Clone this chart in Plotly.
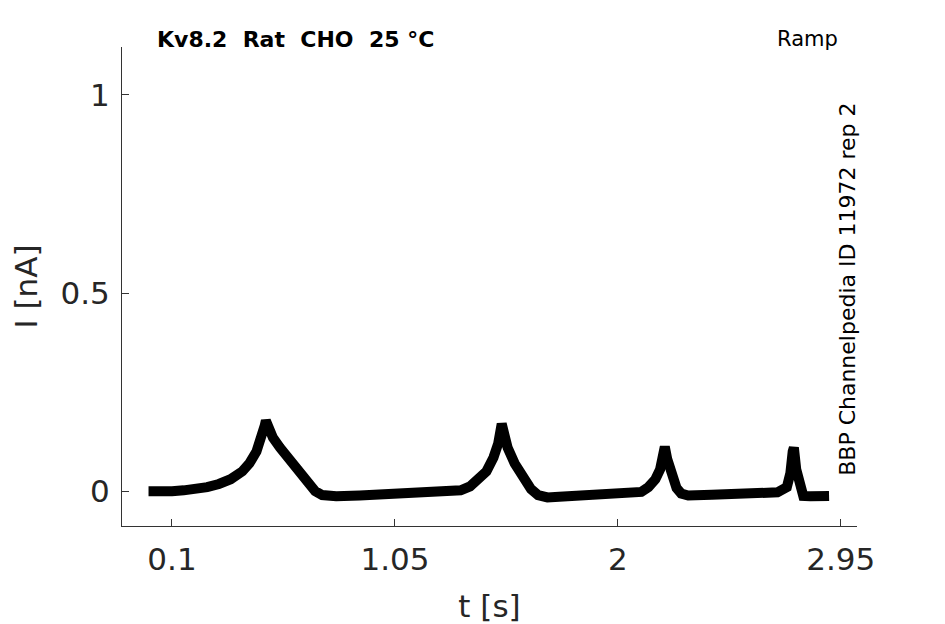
import plotly.graph_objects as go

# time [s] and current [nA]
t_s = [0.00, 0.05, 0.10, 0.15, 0.20, 0.25, 0.30, 0.35, 0.40, 0.43, 0.46, 0.48, 0.495, 0.50,
       0.51, 0.53, 0.56, 0.60, 0.64, 0.68, 0.71, 0.74, 0.80, 0.90, 1.00, 1.10, 1.20, 1.28,
       1.33, 1.37, 1.41, 1.44, 1.47, 1.49, 1.505, 1.515, 1.53, 1.56, 1.60, 1.63, 1.66, 1.70,
       1.75, 1.85, 1.95, 2.05, 2.10, 2.13, 2.16, 2.18, 2.195, 2.20, 2.21, 2.23, 2.25, 2.27,
       2.30, 2.40, 2.50, 2.60, 2.68, 2.72, 2.735, 2.745, 2.75, 2.76, 2.775, 2.79, 2.82, 2.86, 2.90]
i_nA = [0.000, -0.002, 0.000, 0.002, 0.005, 0.010, 0.018, 0.030, 0.050, 0.070, 0.100, 0.128, 0.165, 0.178,
        0.158, 0.135, 0.110, 0.080, 0.048, 0.018, 0.000, -0.010, -0.013, -0.011, -0.009, -0.007, -0.005, -0.003,
        0.002, 0.012, 0.030, 0.050, 0.085, 0.120, 0.170, 0.142, 0.110, 0.070, 0.028, 0.005, -0.010, -0.016,
        -0.014, -0.011, -0.009, -0.006, -0.002, 0.010, 0.030, 0.055, 0.092, 0.112, 0.082, 0.035, 0.008, -0.006,
        -0.011, -0.009, -0.007, -0.005, -0.003, 0.010, 0.045, 0.100, 0.110, 0.055, 0.005, -0.012, -0.013, -0.012, -0.012]

x_tickvals = [0.1, 1.05, 2, 2.95]
x_ticktext = ["0.1", "1.05", "2", "2.95"]
y_tickvals = [0, 0.5, 1]
y_ticktext = ["0", "0.5", "1"]

title_text = "Kv8.2\u00a0\u00a0Rat\u00a0\u00a0CHO\u00a0\u00a025\u00a0°C"
protocol_text = "Ramp"
source_text = "BBP Channelpedia ID 11972 rep 2"

FONT = "DejaVu Sans"
TXT = "#262626"
AX = "#333333"

fig = go.Figure()
fig.add_trace(go.Scatter(x=t_s, y=i_nA, mode="lines",
                         line=dict(color="black", width=10, shape="linear"),
                         hoverinfo="skip", showlegend=False))

axis_common = dict(showline=True, linecolor=AX, linewidth=1, ticks="inside",
                   ticklen=7, tickcolor=AX, tickwidth=1, showgrid=False,
                   zeroline=False, automargin=False,
                   tickfont=dict(family=FONT, size=31, color=TXT))

fig.update_layout(
    width=937, height=616,
    margin=dict(l=114, r=88, t=39, b=98),
    paper_bgcolor="white", plot_bgcolor="white",
    xaxis=dict(range=[-0.113, 3.019], tickmode="array", tickvals=x_tickvals,
               ticktext=x_ticktext, ticklabelstandoff=6,
               title=dict(text="t [s]", font=dict(family=FONT, size=31, color=TXT), standoff=19),
               **axis_common),
    yaxis=dict(range=[-0.088, 1.121], tickmode="array", tickvals=y_tickvals,
               ticktext=y_ticktext, ticklabelstandoff=5,
               title=dict(text="I [nA]", font=dict(family=FONT, size=31, color=TXT), standoff=14),
               **axis_common),
    annotations=[
        dict(text="<b>" + title_text + "</b>", xref="paper", yref="paper",
             x=0.045, y=1.0167, xanchor="left", yanchor="middle", showarrow=False,
             font=dict(family=FONT, size=22, color="black")),
        dict(text=protocol_text, xref="paper", yref="paper",
             x=0.9765, y=1.0167, xanchor="right", yanchor="middle", showarrow=False,
             font=dict(family=FONT, size=21, color="black")),
        dict(text=source_text, xref="paper", yref="paper",
             x=0.9875, y=0.4948, xanchor="center", yanchor="middle", showarrow=False,
             textangle=-90, font=dict(family=FONT, size=22, color="black")),
    ],
)

fig.write_html("out.html")
